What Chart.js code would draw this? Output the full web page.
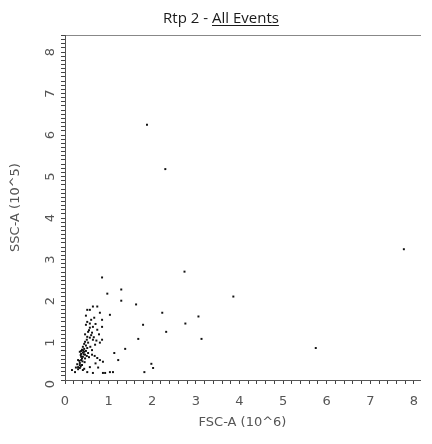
<!DOCTYPE html>
<html>
<head>
<meta charset="utf-8">
<script src="https://cdn.jsdelivr.net/npm/chart.js@4.4.1/dist/chart.umd.min.js"></script>
<style>
  html, body { margin: 0; padding: 0; background: #fff; }
  #wrap { position: relative; width: 432px; height: 444px; }
  #title {
    position: absolute; top: 7px; left: 116px; width: 210px;
    text-align: center; font: 15px "Open Sans", sans-serif; color: #1a1a1a;
  }
  #title u { text-decoration-thickness: 1px; text-underline-offset: 2px; }
</style>
</head>
<body>
<div id="wrap">
  <canvas id="plot" width="432" height="444"></canvas>
  <div id="title">Rtp 2 - <u>All Events</u></div>
</div>
<script>
// events: FSC-A (x) and SSC-A (y)
const fscValues = [
  0.51, 0.57, 0.64, 0.57, 0.74, 0.53, 0.62, 0.85, 0.51, 0.57,
  0.64, 0.46, 0.53, 0.69, 0.41, 0.51, 0.39, 0.34, 0.37, 0.37,
  0.37, 0.44, 0.46, 0.41, 0.53, 0.62, 0.74, 0.80, 0.87, 0.30,
  0.34, 0.39, 0.30, 0.34, 0.41, 0.23, 0.16, 0.51, 0.64, 0.57,
  0.87, 0.44, 0.48, 0.41, 0.39, 0.46, 0.34, 0.30,
  0.48, 0.55, 0.60, 0.66, 0.50, 0.44, 0.48, 0.58, 0.62, 0.42,
  0.37, 0.36, 0.43, 0.50, 0.55, 0.68, 0.40, 0.45, 0.33, 0.28,
  0.36, 0.25, 0.44, 0.70, 0.76, 0.60, 0.70, 0.78, 0.72, 0.46,
  0.51, 0.57, 0.64, 0.74, 0.80, 0.85, 0.48, 0.67, 1.03, 0.85, 0.80,
  0.97, 1.29, 1.29, 1.63, 0.85, 1.13, 1.22, 1.38, 1.10, 1.03, 0.92, 1.68,
  1.88, 2.30, 7.77, 2.74, 3.86, 2.23, 3.06, 1.79, 2.76, 2.32,
  3.13, 5.75, 1.98, 2.02, 1.82
];
const sscValues = [
  1.40, 1.36, 1.28, 1.26, 1.21, 1.16, 1.14, 1.28, 1.04, 1.02,
  0.97, 0.92, 0.90, 0.85, 0.80, 0.77, 0.73, 0.68, 0.63, 0.56,
  0.48, 0.68, 0.61, 0.56, 0.65, 0.61, 0.53, 0.48, 0.44, 0.48,
  0.41, 0.36, 0.31, 0.29, 0.24, 0.19, 0.24, 0.19, 0.17, 0.31,
  0.17, 0.75, 0.70, 0.66, 0.52, 0.52, 0.36, 0.26,
  1.33, 1.20, 1.08, 1.03, 0.97, 0.87, 0.83, 0.80, 0.72, 0.71,
  0.70, 0.60, 0.62, 0.58, 0.55, 0.58, 0.45, 0.43, 0.46, 0.38,
  0.33, 0.30, 0.27, 0.40, 0.30, 1.45, 1.35, 1.10, 0.95, 1.10,
  1.69, 1.69, 1.77, 1.77, 1.62, 1.45, 1.55, 1.50, 1.57, 0.97, 0.90,
  2.08, 2.18, 1.91, 1.82, 2.47, 0.65, 0.48, 0.75, 0.19, 0.19, 0.17, 0.99,
  6.15, 5.08, 3.15, 2.61, 2.01, 1.62, 1.53, 1.33, 1.36, 1.16,
  0.99, 0.77, 0.39, 0.29, 0.19
];

const xMax = 8.14;
const yMax = 8.31;

const points = fscValues.map((x, i) => ({ x, y: sscValues[i] }));

// only integer ticks get a label, the rest are ruler marks
function intLabel(v) {
  const r = Math.round(v);
  return Math.abs(v - r) < 1e-6 ? String(r) : "";
}

const tickFont = { family: "DejaVu Sans", size: 13 };

new Chart(document.getElementById("plot"), {
  type: "scatter",
  data: {
    datasets: [{
      data: points,
      pointStyle: "rect",
      pointRadius: 1.4,
      pointBorderWidth: 0,
      backgroundColor: "#111",
      borderColor: "#111",
    }],
  },
  options: {
    responsive: false,
    animation: false,
    layout: { padding: { left: 0, right: 12, top: 0, bottom: 0 } },
    plugins: { legend: { display: false }, tooltip: { enabled: false } },
    scales: {
      x: {
        type: "linear",
        min: 0, max: xMax,
        afterFit: (s) => { s.height = 64; },
        border: { color: "#555", dash: [2, 1] },
        grid: { drawOnChartArea: false, drawTicks: true, tickLength: 4, color: "#444" },
        ticks: {
          stepSize: 0.2, autoSkip: false, includeBounds: false, maxRotation: 0, padding: 10,
          color: "#555", font: tickFont, callback: intLabel,
        },
        title: {
          display: true, text: "FSC-A (10^6)", color: "#555",
          font: { family: "DejaVu Sans", size: 13 }, padding: { top: 0, bottom: 14 },
        },
      },
      xTop: {
        type: "linear", position: "top",
        min: 0, max: xMax,
        afterFit: (s) => { s.height = 35; },
        border: { color: "#888", dash: [2, 2] },
        grid: { display: false },
        ticks: { display: false },
      },
      y: {
        type: "linear",
        min: 0, max: yMax,
        afterFit: (s) => { s.width = 65; },
        border: { color: "#555", dash: [2, 1] },
        grid: { drawOnChartArea: false, drawTicks: true, tickLength: 4, color: "#444" },
        ticks: {
          stepSize: 0.1, autoSkip: false, includeBounds: false, minRotation: 90, maxRotation: 90, padding: 10,
          color: "#555", font: tickFont, callback: intLabel,
        },
        title: {
          display: true, text: "SSC-A (10^5)", color: "#555",
          font: { family: "DejaVu Sans", size: 13 }, padding: { top: 8, bottom: 0 },
        },
      },
    },
  },
});
</script>
</body>
</html>
